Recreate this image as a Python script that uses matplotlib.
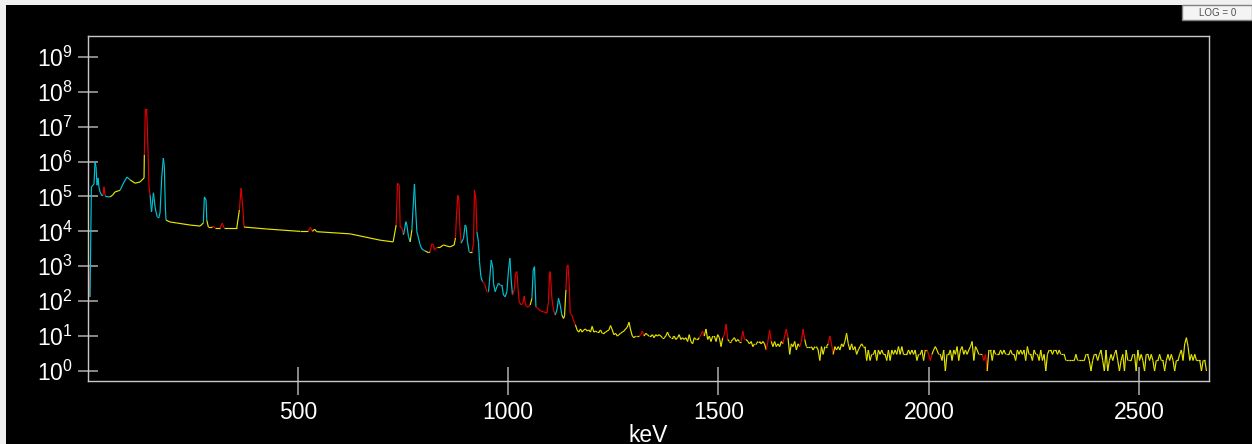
import numpy as np
import matplotlib
matplotlib.use('Agg')
import matplotlib.pyplot as plt
from matplotlib.collections import LineCollection
from matplotlib.patches import Rectangle
from matplotlib.ticker import NullLocator, FixedLocator, LogFormatterMathtext

plt.rcParams['font.family'] = ['Liberation Sans', 'DejaVu Sans']

# spectrum, low energy part (keV, counts)
peak_kev = [1.5, 2.0, 3.0, 6.2, 9.5, 13.3, 15.7, 18.1, 20.5, 22.8, 25.2, 27.6, 30, 34.7, 37.1,
            39.5, 42, 44.2, 53.7, 60, 65.6, 77.5, 87, 94.2, 101.3, 113.2, 125, 134.6, 135.3,
            137.7, 140.5, 142.4, 144.8, 146.5, 148.9, 152.4, 157.0, 160.8, 163.1, 166.2, 170.3,
            172.6, 176.7, 180.5, 182.9, 185.2, 186.9, 196.4, 212.4, 244, 267.8, 275.6, 278.0,
            282.0, 283.7, 287.5, 295.6, 299.4, 303.4, 315.3, 320.8, 324.8, 355, 361.2, 365.3,
            369.3, 372.4, 426.4, 505.6, 525, 530, 535, 540, 545, 624.5, 695.8, 726.7, 733.9,
            737, 741, 743.4, 747.4, 751.2, 753.6, 756.9, 759.3, 763.1, 767.1, 771.2, 773.6,
            777.4, 780.7, 783.1, 786.9, 790.9, 795, 802.8, 810.7, 814.7, 818.7, 822.5, 824.9,
            830.6, 838.5, 846.3, 854.4, 862.3, 871.8, 874.9, 877.3, 880.6, 883, 885.3, 888.4,
            893.9, 897.9, 900.3, 903.4, 907.4, 913.9, 917.7, 920, 923.4, 925.8, 929.6, 932,
            935.3, 939.1, 943.8, 949.5, 953.3, 955.7, 959.8, 963.8, 965.2, 969.3, 973.3, 977.1,
            981.2, 985.2, 989, 993.1, 997.1, 1000.9, 1004.2, 1007.3, 1010.4, 1014.5, 1017.5,
            1020.9, 1023.3, 1026.3, 1031.1, 1035.1, 1038.2, 1041.3, 1046.1, 1052.5, 1056.6,
            1059.7, 1062.7, 1066.1, 1069.9, 1076.3, 1084.1, 1092.2, 1096, 1098.4, 1100.1,
            1104.1, 1107.9, 1111.9, 1116, 1119.8, 1123.8, 1127.9, 1131.7, 1134.1, 1137.4,
            1139.8, 1142.2, 1145.3, 1147.6, 1151.7]
peak_counts = [0.5, 1.5, 1000, 132, 1.9e5, 2.1e5, 2.3e5, 9.8e5, 7e5, 2.1e5, 3.4e5, 1.8e5, 1.35e5,
               1.05e5, 1.1e5, 1.9e5, 1.05e5, 1.0e5, 9.7e4, 1.1e5, 1.35e5, 1.5e5, 2.6e5, 3.6e5,
               3.0e5, 2.4e5, 2.6e5, 3.4e5, 1.55e6, 3.2e7, 3.2e7, 1.0e7, 9.1e5, 1.87e5, 1.1e5,
               3.6e4, 1.27e5, 5.0e4, 3.6e4, 2.6e4, 2.6e4, 3.4e4, 3.6e5, 1.26e6, 7.0e5, 5.0e4,
               2.1e4, 1.86e4, 1.74e4, 1.52e4, 1.42e4, 1.74e4, 9.7e4, 7.9e4, 2.1e4, 1.33e4,
               1.33e4, 1.42e4, 1.25e4, 1.25e4, 1.74e4, 1.25e4, 1.25e4, 4.1e4, 1.74e5, 5.0e4,
               1.33e4, 1.17e4, 1.0e4, 1.0e4, 1.3e4, 1.0e4, 1.15e4, 9.8e3, 8.5e3, 5.6e3, 5.0e3,
               1.52e4, 2.39e5, 2.14e5, 1.33e4, 1.25e4, 7.9e3, 1.1e4, 1.9e4, 1.52e4, 7.1e3,
               5.0e3, 1.1e4, 3.7e4, 2.28e5, 3.4e4, 9.8e3, 6.5e3, 4.1e3, 3.1e3, 2.75e3, 2.45e3,
               2.6e3, 4.4e3, 4.1e3, 2.9e3, 3.5e3, 3.5e3, 4.1e3, 3.8e3, 3.6e3, 4.1e3, 6.5e3,
               2.9e4, 1.1e5, 7.9e4, 1.36e4, 4.6e3, 6.3e3, 1.52e4, 1.36e4, 5.0e3, 2.6e3, 2.6e3,
               4.5e3, 1.54e5, 7.9e4, 9.8e3, 4.8e3, 1.36e3, 505, 364, 325, 187, 187, 364, 1.5e3,
               880, 325, 187, 260, 325, 290, 290, 150, 134, 187, 780, 1.7e3, 405, 150, 209, 630,
               705, 260, 97, 78, 87, 140, 78, 67, 78, 121, 780, 975, 69, 63, 53, 50, 45, 97, 630,
               705, 121, 56, 40, 56, 121, 78, 40, 32, 38, 209, 975, 1.1e3, 325, 45, 40]

# spectrum, high energy part: evenly binned from 1156 to 2660 keV
tail_kev_range = (1156, 2660)
tail_counts = [27, 21, 15, 13, 16, 13, 15, 16, 14, 15, 13, 19, 13, 14, 13, 13, 15, 12, 12, 13,
               14, 15, 20, 15, 11, 12, 10, 11, 12, 13, 14, 16, 18, 25, 15, 10, 9, 10, 10, 10,
               11, 14, 10, 12, 11, 10, 10, 11, 9, 11, 10, 11, 10, 9, 9, 10, 13, 10, 9, 9,
               10, 8, 9, 11, 8, 9, 8, 9, 7, 11, 7, 6, 9, 8, 8, 9, 11, 14, 10, 16,
               8, 10, 7, 10, 10, 7, 11, 9, 5, 9, 11, 22, 8, 7, 7, 8, 9, 7, 8, 7,
               7, 14, 8, 8, 7, 6, 7, 5, 6, 6, 7, 7, 6, 7, 6, 4, 7, 15, 7, 5,
               7, 5, 6, 5, 7, 6, 10, 16, 9, 3, 6, 5, 7, 4, 6, 5, 7, 16, 8, 5,
               5, 5, 5, 4, 5, 5, 4, 2, 5, 3, 5, 5, 6, 10, 6, 3, 5, 4, 5, 4,
               6, 5, 7, 12, 6, 4, 6, 4, 5, 3, 4, 5, 6, 5, 5, 2, 4, 2, 3, 3,
               4, 2, 4, 3, 4, 3, 3, 2, 4, 2,
               4, 3, 4, 3, 5, 3, 5, 3, 3, 3, 4, 3, 4, 3, 4, 2, 3, 3, 4, 2,
               4, 4, 3, 2, 3, 4, 5, 4, 3, 3, 2, 4, 1, 3, 3, 4, 2, 4, 3, 5,
               2, 4, 5, 3, 4, 3, 4, 5, 7, 2, 5, 4, 3, 3, 3, 2, 3, 1, 4, 4,
               2, 4, 3, 3, 3, 4, 3, 4, 3, 3, 3, 4, 3, 3, 2, 4, 3, 4, 3, 4,
               2, 5, 3, 3, 2, 4, 3, 3, 2, 4, 2, 3, 1, 3, 4, 4, 3, 4, 4, 3,
               4, 3, 3, 3, 2, 2, 2, 2, 2, 2, 3, 2, 2, 2, 2, 2, 3, 3, 2, 1,
               2, 3, 3, 2, 3, 4, 2, 1, 4, 1, 2, 3, 2, 3, 4, 2, 1, 2, 3, 1,
               4, 2, 2, 2, 3, 3, 1, 4, 2, 3, 2, 1, 3, 3, 2, 3, 2, 1, 2, 2,
               3, 2, 2, 1, 2, 3, 2, 3, 2, 1, 2, 2, 3, 4, 2, 6, 9, 5, 2, 3,
               2, 3, 2, 2, 2, 1, 2, 2, 1]

y_ticks = [1e0, 1e1, 1e2, 1e3, 1e4, 1e5, 1e6, 1e7, 1e8, 1e9]
x_ticks = [500, 1000, 1500, 2000, 2500]

# regions of interest (keV)
blue_roi = [(1.0, 2.0)]
red_roi = [(2.0, 5.0), (36, 43), (135.5, 148.9), (297, 302), (318, 323), (360, 372), (527, 533),
           (734, 752), (813, 828), (875, 889), (911, 926), (939, 954), (1012, 1050),
           (1065, 1110), (1136, 1158), (1313, 1325), (1456, 1468), (1512, 1524), (1552, 1564),
           (1615, 1627), (1655, 1667), (1695, 1707), (1759, 1771), (1997, 2009), (2125, 2137)]
cyan_roi = [(5, 36), (43, 52), (80, 100), (148.9, 187), (275.6, 285), (752, 768), (772, 800),
            (889, 909), (926, 939), (954, 1010), (1056, 1066), (1110, 1129)]

kev = np.concatenate([peak_kev, np.linspace(*tail_kev_range, len(tail_counts))])
counts = np.concatenate([peak_counts, tail_counts]).astype(float)

pts = np.column_stack([kev, counts])
segs = np.stack([pts[:-1], pts[1:]], axis=1)
mid = (kev[:-1] + kev[1:]) / 2
colors = []
for m in mid:
    c = '#e6e600'
    for lo, hi in cyan_roi:
        if lo <= m <= hi:
            c = '#00c4d4'
    for lo, hi in red_roi:
        if lo <= m <= hi:
            c = '#e00000'
    for lo, hi in blue_roi:
        if lo <= m <= hi:
            c = '#7070ff'
    colors.append(c)

fig = plt.figure(figsize=(12.52, 4.44), dpi=100, facecolor='#f0f0f0')
panel = Rectangle((6 / 1252, 0), 1, 1 - 5 / 444, transform=fig.transFigure,
                  facecolor='black', edgecolor='none', zorder=-5)
fig.add_artist(panel)

ax = fig.add_axes([88 / 1252, 1 - 381 / 444, 1121 / 1252, 345 / 444])
ax.set_facecolor('black')
ax.set_yscale('log')
ax.add_collection(LineCollection(segs, colors=colors, linewidths=0.85))
ax.set_xlim(1.4, 2666)
ax.set_ylim(0.517, 3.96e9)

for s in ax.spines.values():
    s.set_color('#c8c8c8')
    s.set_linewidth(1)

ax.yaxis.set_major_locator(FixedLocator(y_ticks))
ax.yaxis.set_major_formatter(LogFormatterMathtext())
ax.yaxis.set_minor_locator(NullLocator())
ax.xaxis.set_major_locator(FixedLocator(x_ticks))
ax.tick_params(axis='y', direction='inout', length=14.4, width=1.2, color='#a0a0a0',
               labelcolor='white', labelsize=16.5, pad=3.6)
ax.tick_params(axis='x', direction='inout', length=20, width=1.2, color='#a0a0a0',
               labelcolor='white', labelsize=16.5, pad=4.5)
ax.set_xlabel('keV', color='white', fontsize=16.5, labelpad=0)

btn = Rectangle((1182 / 1252, 1 - 20 / 444), 70 / 1252, 15 / 444, transform=fig.transFigure,
                facecolor='#f4f4f4', edgecolor='#808080', linewidth=1)
fig.add_artist(btn)
fig.text(1218 / 1252, 1 - 12.5 / 444, 'LOG = 0', ha='center', va='center', fontsize=7,
         color='#505050')

fig.savefig('out.png', dpi=100, facecolor=fig.get_facecolor())
